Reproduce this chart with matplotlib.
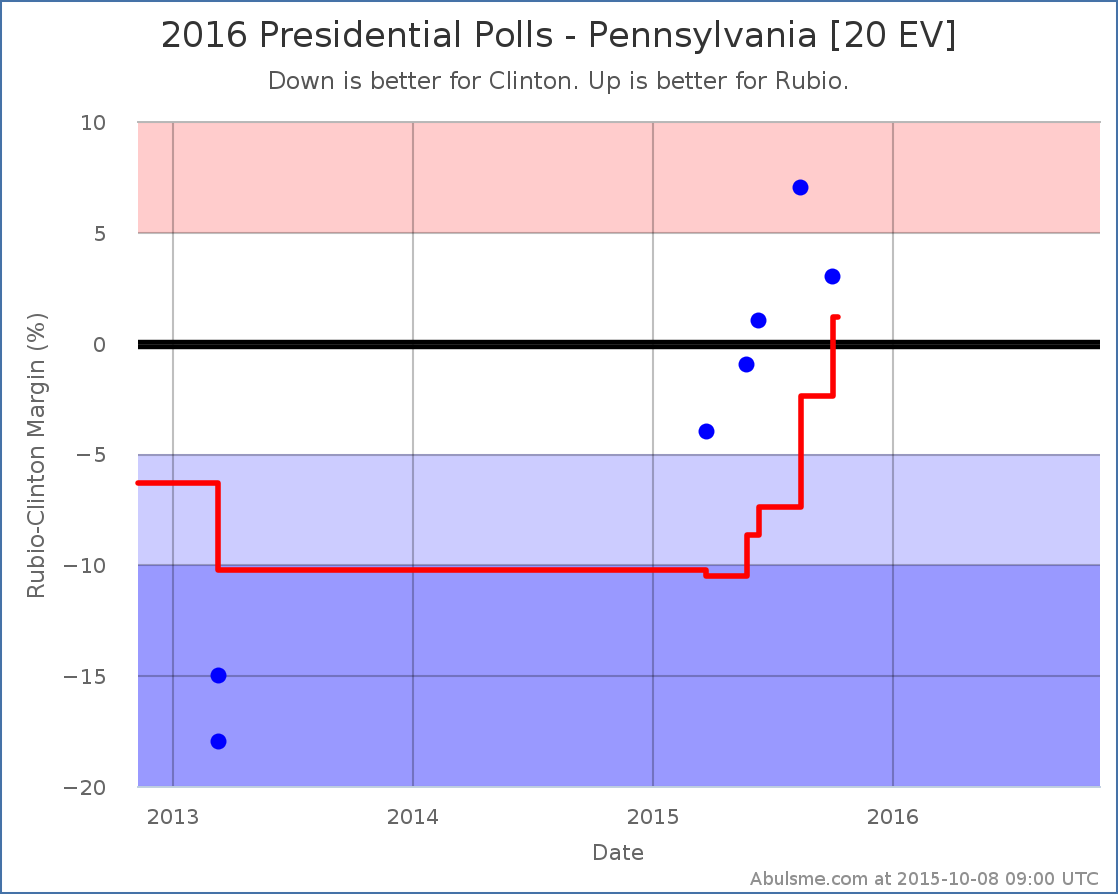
import matplotlib
matplotlib.use("Agg")
import matplotlib.pyplot as plt
from matplotlib.patches import Rectangle
from matplotlib.transforms import ScaledTranslation

# poll data, dates as decimal years
poll_dates = [2013.1875, 2013.1875, 2015.22, 2015.3875, 2015.4375, 2015.6125, 2015.746]
poll_margins = [-15, -18, -4, -1, 1, 7, 3]

avg_dates = [2012.853, 2013.1875, 2015.22, 2015.392, 2015.443, 2015.617, 2015.75, 2015.771]
avg_margins = [-6.3, -10.2, -10.5, -8.63, -7.37, -2.37, 1.2, 1.2]

x_ticks = [2013, 2014, 2015, 2016]
y_ticks = [-20, -15, -10, -5, 0, 5, 10]

W, H = 1118, 894
plt.rcParams["font.family"] = "DejaVu Sans"
plt.rcParams["text.hinting"] = "native"
plt.rcParams["text.hinting_factor"] = 1

fig = plt.figure(figsize=(W / 100, H / 100), dpi=100)
ax = fig.add_axes([138 / W, 1 - 787 / H, (1100 - 138) / W, (787 - 122) / H])

ax.set_xlim(2012.854, 2016.8625)
ax.set_ylim(-20, 10)

# bands
ax.axhspan(5, 10, color="#FFCCCC", lw=0, zorder=0)
ax.axhspan(-10, -5, color="#CCCCFF", lw=0, zorder=0)
ax.axhspan(-20, -10, color="#9999FF", lw=0, zorder=0)

ax.set_xticks(x_ticks)
ax.set_xticklabels([str(t) for t in x_ticks])
ax.set_yticks(y_ticks)
ax.grid(True, color="black", alpha=0.25, lw=1.5)
ax.set_axisbelow(False)
ax.tick_params(length=0, labelsize=15, labelcolor="#666666")
ax.tick_params(axis="x", pad=15)
ax.tick_params(axis="y", pad=23)

for s in ["left", "right"]:
    ax.spines[s].set_visible(False)
ax.spines["top"].set_color("#B8B8B8")
ax.spines["top"].set_linewidth(1.4)
ax.spines["top"].set_zorder(5)
ax.spines["bottom"].set_color("#C0D0E0")
ax.spines["bottom"].set_linewidth(1.4)
ax.spines["bottom"].set_zorder(5)

# zero line
ax.axhline(0, color="black", lw=6.8, zorder=2)
ax.axhline(0, color="#333333", lw=0.7, zorder=2.1)

ax.plot(avg_dates, avg_margins, color="#FF0000", lw=4.0, drawstyle="steps-post",
        solid_joinstyle="round", solid_capstyle="round", clip_on=False, zorder=3)
# markers sit about 1.5 px above their grid position in the original
nudge = ScaledTranslation(0, 1.5 / 100, fig.dpi_scale_trans)
ax.plot(poll_dates, poll_margins, "o", color="#0000FF", ms=11.5, mew=0, zorder=4,
        transform=ax.transData + nudge)

fig.text(559 / W, 1 - 37 / H, "2016 Presidential Polls - Pennsylvania [20 EV]",
         ha="center", va="center", fontsize=25, color="#333333")
fig.text(559 / W, 1 - 83 / H, "Down is better for Clinton. Up is better for Rubio.",
         ha="center", va="center", fontsize=17, color="#555555")
fig.text(39 / W, 1 - 455 / H, "Rubio-Clinton Margin (%)", rotation=90,
         ha="center", va="center", fontsize=16.5, color="#666666")
fig.text(618 / W, 1 - 854 / H, "Date", ha="center", va="center", fontsize=15.5, color="#666666")
fig.text(1099 / W, 1 - 880 / H, "Abulsme.com at 2015-10-08 09:00 UTC",
         ha="right", va="center", fontsize=13, color="#909090")

# outer border
fig.add_artist(Rectangle((0, 0), 1, 1, transform=fig.transFigure, fill=False,
                         edgecolor="#4572A7", lw=2.9))

fig.savefig("out.png", dpi=100)
